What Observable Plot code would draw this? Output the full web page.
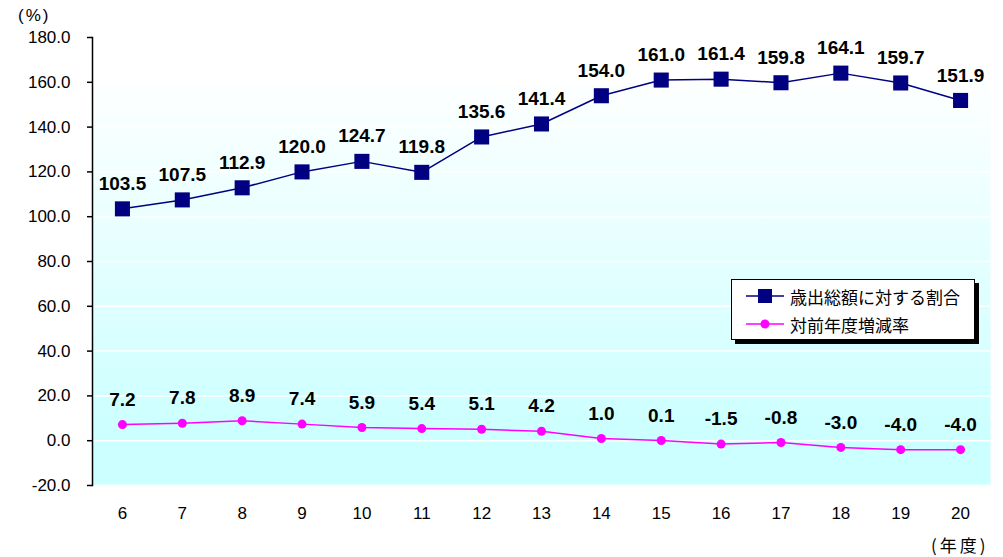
<!DOCTYPE html>
<html><head><meta charset="utf-8">
<script src="https://cdn.jsdelivr.net/npm/d3@7"></script>
<script src="https://cdn.jsdelivr.net/npm/@observablehq/plot@0.6"></script>
<style>
body{margin:0;background:#fff;font-family:"Liberation Sans","Noto Sans CJK JP",sans-serif;}
#wrap{position:relative;width:1003px;height:557px;}
.lbl{position:absolute;font-size:17px;color:#000;}
#legend{position:absolute;left:731px;top:279px;width:244px;height:61px;background:#fff;border:1px solid #000;box-shadow:4px 4px 0 #000;box-sizing:border-box;font-family:"Noto Sans CJK JP",sans-serif;font-size:17px;}
.row{position:absolute;left:14px;height:22px;display:flex;align-items:center;}
.row svg{margin-right:6px;}
</style></head><body>
<div id="wrap"></div>
<script>
const years = [6,7,8,9,10,11,12,13,14,15,16,17,18,19,20];
const ratio = [103.5,107.5,112.9,120.0,124.7,119.8,135.6,141.4,154.0,161.0,161.4,159.8,164.1,159.7,151.9];
const change = [7.2,7.8,8.9,7.4,5.9,5.4,5.1,4.2,1.0,0.1,-1.5,-0.8,-3.0,-4.0,-4.0];
const yTicks = [-20,0,20,40,60,80,100,120,140,160,180];
const seriesNames = ["歳出総額に対する割合","対前年度増減率"];
const yUnit = "(%)";
const xUnit = "(年度)";

const d1 = years.map((y,i)=>({year:y,v:ratio[i]}));
const d2 = years.map((y,i)=>({year:y,v:change[i]}));
const font = `"Liberation Sans","Noto Sans CJK JP",sans-serif`;

const plot = Plot.plot({
  width:1003, height:557,
  marginLeft:92, marginRight:13, marginTop:37, marginBottom:72,
  style:{fontFamily:font, fontSize:"17px", color:"#000", background:"transparent", maxWidth:"none"},
  x:{type:"linear", domain:[5.5,20.5]},
  y:{domain:[-20,180]},
  marks:[
    Plot.frame({fill:"url(#bgGrad)", stroke:"none"}),
    Plot.gridY(yTicks,{stroke:"#fff", strokeOpacity:1, strokeWidth:1.5}),
    Plot.axisY(yTicks,{tickFormat:d=>d.toFixed(1), tickSize:5, tickPadding:17, label:null, fontSize:17, strokeWidth:1.5}),
    Plot.axisX(years,{tickSize:0, tickPadding:21, label:null, fontSize:17, tickFormat:d=>String(d)}),
    Plot.frame({anchor:"left", stroke:"#000", strokeWidth:1.5}),
    Plot.line(d1,{x:"year",y:"v",stroke:"#000080",strokeWidth:1.5}),
    Plot.dot(d1,{x:"year",y:"v",symbol:"square",fill:"#000080",r:8.5}),
    Plot.text(d1,{x:"year",y:"v",text:d=>d.v.toFixed(1),dy:-25,fontWeight:"bold",fontSize:19,letterSpacing:"0.08em"}),
    Plot.line(d2,{x:"year",y:"v",stroke:"#ff00ff",strokeWidth:1.5}),
    Plot.dot(d2,{x:"year",y:"v",fill:"#ff00ff",r:4.5}),
    Plot.text(d2,{x:"year",y:"v",text:d=>d.v.toFixed(1),dy:-25,fontWeight:"bold",fontSize:19,letterSpacing:"0.08em"})
  ]
});
const svg = d3.select(plot);
const defs = svg.insert("defs",":first-child");
const g = defs.append("linearGradient").attr("id","bgGrad").attr("x1",0).attr("y1",0).attr("x2",0).attr("y2",1);
g.append("stop").attr("offset","0").attr("stop-color","#ffffff");
g.append("stop").attr("offset","0.08").attr("stop-color","#ffffff");
g.append("stop").attr("offset","0.88").attr("stop-color","#ccffff");
g.append("stop").attr("offset","1").attr("stop-color","#ccffff");

const wrap = document.getElementById("wrap");
wrap.appendChild(plot);
plot.style.position="absolute"; plot.style.left="0"; plot.style.top="0";

const u1 = document.createElement("div"); u1.className="lbl"; u1.textContent=yUnit;
u1.style.left="18px"; u1.style.top="6px"; u1.style.letterSpacing="2px"; wrap.appendChild(u1);
const u2 = document.createElement("div"); u2.className="lbl"; u2.textContent=xUnit;
u2.style.left="931px"; u2.style.top="532px"; u2.style.fontFamily='"Noto Sans CJK JP",sans-serif'; u2.style.letterSpacing="3px"; wrap.appendChild(u2);

const lg = document.createElement("div"); lg.id="legend";
lg.innerHTML = `
<div class="row" style="top:5px"><svg width="38" height="16"><line x1="0" y1="8" x2="38" y2="8" stroke="#000080" stroke-width="1.5"/><rect x="12" y="1" width="14" height="14" fill="#000080"/></svg><span>${seriesNames[0]}</span></div>
<div class="row" style="top:33px"><svg width="38" height="16"><line x1="0" y1="8" x2="38" y2="8" stroke="#ff00ff" stroke-width="1.5"/><circle cx="19" cy="8" r="4.5" fill="#ff00ff"/></svg><span>${seriesNames[1]}</span></div>`;
wrap.appendChild(lg);
</script>
</body></html>
